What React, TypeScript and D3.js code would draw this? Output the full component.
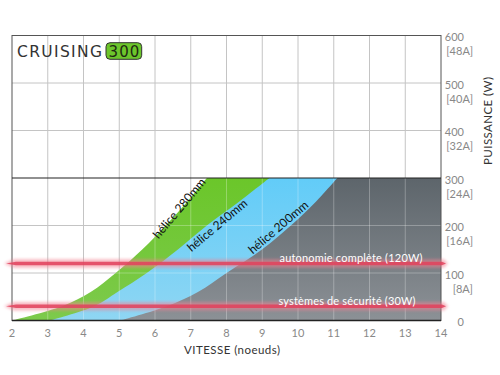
import React from "react";
import * as d3 from "d3";

const speedTicks = [2, 3, 4, 5, 6, 7, 8, 9, 10, 11, 12, 13, 14];
const powerTicks = [0, 100, 200, 300, 400, 500, 600];
const ampLabels = ["", "[8A]", "[16A]", "[24A]", "[32A]", "[40A]", "[48A]"];

const curvePower = [0, 30, 60, 100, 150, 200, 250, 300];
const helice280Speed = [2, 3.4, 4.2, 4.9, 5.65, 6.3, 6.9, 7.45];
const helice240Speed = [3.06, 4.3, 4.95, 5.77, 6.65, 7.45, 8.35, 9.2];
const helice200Speed = [5.03, 6.33, 7.2, 8.0, 9.0, 9.8, 10.5, 11.1];

const refLevels = [120, 30];
const refLabels = ["autonomie complète (120W)", "systèmes de sécurité (30W)"];

const W = 500;
const H = 375;
const FONT = "Lato, 'Open Sans', sans-serif";

export default function App() {
  const x = d3.scaleLinear().domain([2, 14]).range([12, 441]);
  const y = d3.scaleLinear().domain([0, 600]).range([320.5, 35.5]);

  const areaPath = (vs: number[]) => {
    const pts: [number, number][] = vs.map((v, i) => [x(v), y(curvePower[i])]);
    const line = d3.line().curve(d3.curveCatmullRom.alpha(0.5))(pts) || "";
    return `${line}L${x(14)},${y(300)}L${x(14)},${y(0)}Z`;
  };
  const p280 = areaPath(helice280Speed);
  const p240 = areaPath(helice240Speed);
  const p200 = areaPath(helice200Speed);

  const gridV = speedTicks.slice(1, -1);
  const gridH = [100, 200, 400, 500];

  const redPath = (yy: number, x0: number, x1: number, h: number) =>
    `M${x0},${yy}L${x0 + 10},${yy - h}L${x1 - 4},${yy - h}L${x1},${yy}L${x1 - 4},${yy + h}L${x0 + 10},${yy + h}Z`;

  const heliceLabels = [
    { t: "hélice 280mm", cx: 179, cy: 208, a: -50 },
    { t: "hélice 240mm", cx: 217, cy: 225, a: -40 },
    { t: "hélice 200mm", cx: 278, cy: 227, a: -40.5 },
  ];

  return (
    <svg width={W} height={H} style={{ position: "absolute", left: 0, top: 0, background: "#fff" }}>
      <defs>
        <linearGradient id="gGray" x1="0" y1="0" x2="0" y2="1">
          <stop offset="0" stopColor="#5d656b" />
          <stop offset="1" stopColor="#8c9196" />
        </linearGradient>
        <linearGradient id="gBlue" x1="0" y1="0" x2="0" y2="1">
          <stop offset="0" stopColor="#62ccf8" />
          <stop offset="1" stopColor="#8fd6f3" />
        </linearGradient>
        <linearGradient id="gGreen" x1="0" y1="0" x2="0" y2="1">
          <stop offset="0" stopColor="#6bc62a" />
          <stop offset="1" stopColor="#7dca4c" />
        </linearGradient>
        <filter id="blurWide" x="-5%" y="-200%" width="110%" height="500%">
          <feGaussianBlur stdDeviation="1.8" />
        </filter>
        <filter id="blurCore" x="-5%" y="-200%" width="110%" height="500%">
          <feGaussianBlur stdDeviation="0.6" />
        </filter>
        <clipPath id="clipAreas">
          <path d={p280} />
        </clipPath>
      </defs>

      {gridV.map((v) => (
        <line key={"v" + v} x1={x(v)} x2={x(v)} y1={y(600)} y2={y(0)} stroke="#c4c4c4" strokeWidth={1} />
      ))}
      {gridH.map((p) => (
        <line key={"h" + p} x1={x(2)} x2={x(14)} y1={y(p)} y2={y(p)} stroke="#c4c4c4" strokeWidth={1} />
      ))}

      <path d={p280} fill="url(#gGreen)" />
      <path d={p240} fill="url(#gBlue)" />
      <path d={p200} fill="url(#gGray)" />

      <g clipPath="url(#clipAreas)">
        {gridV.map((v) => (
          <line key={"ov" + v} x1={x(v)} x2={x(v)} y1={y(600)} y2={y(0)} stroke="#fff" strokeOpacity={0.28} strokeWidth={1} />
        ))}
        {gridH.map((p) => (
          <line key={"oh" + p} x1={x(2)} x2={x(14)} y1={y(p)} y2={y(p)} stroke="#fff" strokeOpacity={0.28} strokeWidth={1} />
        ))}
      </g>

      <rect x={x(2)} y={y(600)} width={x(14) - x(2)} height={y(0) - y(600)} fill="none" stroke="#555" strokeWidth={1} />
      <line x1={x(2)} x2={x(14)} y1={y(300)} y2={y(300)} stroke="#222" strokeWidth={1.2} />
      <line x1={x(2)} x2={x(14)} y1={y(0)} y2={y(0)} stroke="#222" strokeWidth={1.5} />

      {heliceLabels.map((l) => (
        <text
          key={l.t}
          transform={`translate(${l.cx},${l.cy}) rotate(${l.a})`}
          textAnchor="middle"
          dominantBaseline="central"
          fontFamily={FONT}
          fontSize={12}
          fill="#111"
        >
          {l.t}
        </text>
      ))}

      {refLevels.map((lv) => (
        <g key={"r" + lv}>
          <path d={redPath(y(lv), 4, 448, 4.2)} fill="#f27f91" opacity={0.55} filter="url(#blurWide)" />
          <path d={redPath(y(lv), 6, 446, 1.8)} fill="#e2435d" opacity={0.85} filter="url(#blurCore)" />
        </g>
      ))}
      {refLevels.map((lv, i) => (
        <text
          key={"rl" + lv}
          x={i === 0 ? 351 : 347}
          y={y(lv) - 1.5}
          textAnchor="middle"
          fontFamily={FONT}
          fontSize={11}
          fill="#fff"
          textLength={i === 0 ? 143 : 137}
        >
          {refLabels[i]}
        </text>
      ))}

      {speedTicks.map((v) => (
        <text key={"xt" + v} x={x(v)} y={337} textAnchor="middle" fontFamily={FONT} fontSize={11} fill="#888">
          {v}
        </text>
      ))}
      <text x={232} y={353.5} textAnchor="middle" fontFamily={FONT} fontSize={11.5} fill="#333" textLength={96}>
        VITESSE (noeuds)
      </text>

      {powerTicks.map((p, i) => (
        <g key={"yt" + p}>
          <text x={464} y={y(p) + 1} textAnchor="end" dominantBaseline="central" fontFamily={FONT} fontSize={11} fill="#888">
            {p}
          </text>
          {ampLabels[i] && (
            <text x={473} y={y(p) + 15} textAnchor="end" dominantBaseline="central" fontFamily={FONT} fontSize={11} fill="#888">
              {ampLabels[i]}
            </text>
          )}
        </g>
      ))}
      <text
        transform="translate(487,121) rotate(-90)"
        textAnchor="middle"
        dominantBaseline="central"
        fontFamily={FONT}
        fontSize={11.5}
        fill="#333"
        textLength={88}
      >
        PUISSANCE (W)
      </text>

      <text x={17} y={57.3} fontFamily="'DejaVu Sans', sans-serif" fontSize={15.5} fill="#333" textLength={85}>
        CRUISING
      </text>
      <rect x={106} y={42.7} width={35.7} height={16.6} rx={4} fill="#6cc62c" stroke="#333" strokeWidth={1} />
      <text x={123.9} y={56.8} textAnchor="middle" fontFamily="'DejaVu Sans', sans-serif" fontSize={15} fill="#1f2a12" textLength={31}>
        300
      </text>
    </svg>
  );
}
